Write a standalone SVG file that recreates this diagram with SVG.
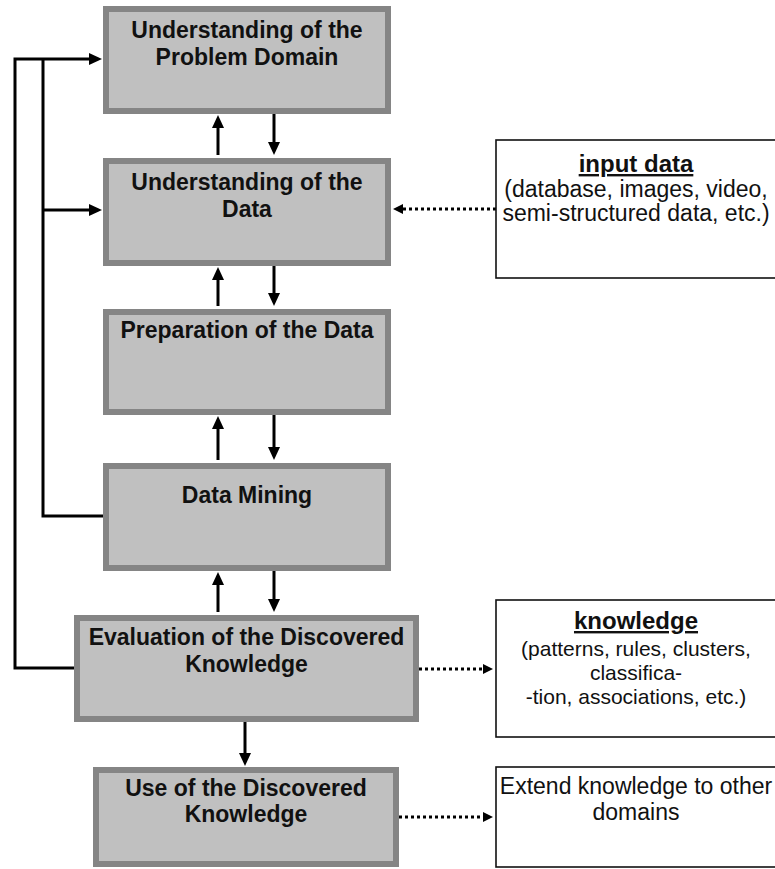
<svg xmlns="http://www.w3.org/2000/svg" width="775" height="869" viewBox="0 0 775 869">
<style>
.box{fill:#c0c0c0;stroke:#858585;stroke-width:6}
.note{fill:#fff;stroke:#111;stroke-width:1.6}
.t{font-family:"Liberation Sans",Arial,sans-serif;font-weight:bold;font-size:23px;fill:#111;text-anchor:middle}
.h{font-family:"Liberation Sans",Arial,sans-serif;font-weight:bold;font-size:24px;fill:#111;text-anchor:middle;text-decoration:underline}
.b{font-family:"Liberation Sans",Arial,sans-serif;font-size:23px;fill:#111;text-anchor:middle}
.s{font-family:"Liberation Sans",Arial,sans-serif;font-size:21px;fill:#111;text-anchor:middle}
.ln{fill:none;stroke:#000;stroke-width:3;stroke-linejoin:miter}
.dot{fill:none;stroke:#000;stroke-width:3;stroke-dasharray:3 3}
</style>
<defs>
<marker id="ah" viewBox="0 0 13 12" refX="3" refY="6" markerWidth="13" markerHeight="12" markerUnits="userSpaceOnUse" orient="auto">
<path d="M0,0 L13,6 L0,12 z" fill="#000"/>
</marker>
<marker id="dh" viewBox="0 0 10 10" refX="0" refY="5" markerWidth="10" markerHeight="10" markerUnits="userSpaceOnUse" orient="auto">
<path d="M0,0 L10,5 L0,10 z" fill="#000"/>
</marker>
</defs>
<rect width="775" height="869" fill="#fff"/>

<g id="connectors">
<path class="ln" d="M218,155 V125" marker-end="url(#ah)"/>
<path class="ln" d="M274,114 V145" marker-end="url(#ah)"/>
<path class="ln" d="M218,306 V277" marker-end="url(#ah)"/>
<path class="ln" d="M274,266 V296" marker-end="url(#ah)"/>
<path class="ln" d="M218,460 V426" marker-end="url(#ah)"/>
<path class="ln" d="M274,415 V450" marker-end="url(#ah)"/>
<path class="ln" d="M218,612 V582" marker-end="url(#ah)"/>
<path class="ln" d="M274,571 V602" marker-end="url(#ah)"/>
<path class="ln" d="M245,722 V756" marker-end="url(#ah)"/>
<path class="ln" d="M74,668 H15 V59 H92" marker-end="url(#ah)"/>
<path class="ln" d="M103,516 H43 V59"/>
<path class="ln" d="M43,210 H92" marker-end="url(#ah)"/>
<path class="dot" d="M496,209 H403" marker-end="url(#dh)"/>
<path class="dot" d="M419,669 H483" marker-end="url(#dh)"/>
<path class="dot" d="M399,817 H483" marker-end="url(#dh)"/>
</g>

<g id="problem-domain">
<rect class="box" x="106" y="9" width="282" height="102"/>
<text class="t" x="247" y="38">Understanding of the</text>
<text class="t" x="247" y="65">Problem Domain</text>
</g>
<g id="understanding-data">
<rect class="box" x="106" y="161" width="282" height="102"/>
<text class="t" x="247" y="190">Understanding of the</text>
<text class="t" x="247" y="217">Data</text>
</g>
<g id="preparation">
<rect class="box" x="106" y="312" width="282" height="100"/>
<text class="t" x="247" y="338">Preparation of the Data</text>
</g>
<g id="data-mining">
<rect class="box" x="106" y="466" width="282" height="102"/>
<text class="t" x="247" y="503">Data Mining</text>
</g>
<g id="evaluation">
<rect class="box" x="77" y="618" width="339" height="101"/>
<text class="t" x="246.5" y="645">Evaluation of the Discovered</text>
<text class="t" x="246.5" y="672">Knowledge</text>
</g>
<g id="use">
<rect class="box" x="96" y="770" width="300" height="94"/>
<text class="t" x="246" y="796">Use of the Discovered</text>
<text class="t" x="246" y="822">Knowledge</text>
</g>
<g id="input-data">
<rect class="note" x="496" y="140" width="280" height="138"/>
<text class="h" x="636" y="172">input data</text>
<text class="b" x="636" y="197">(database, images, video,</text>
<text class="b" x="636" y="221">semi-structured data, etc.)</text>
</g>
<g id="knowledge">
<rect class="note" x="496" y="600" width="280" height="137"/>
<text class="h" x="636" y="629">knowledge</text>
<text class="s" x="636" y="656">(patterns, rules, clusters,</text>
<text class="s" x="636" y="680">classifica-</text>
<text class="s" x="636" y="704">-tion, associations, etc.)</text>
</g>
<g id="extend">
<rect class="note" x="496" y="767" width="280" height="100"/>
<text class="b" x="636" y="794">Extend knowledge to other</text>
<text class="b" x="636" y="820">domains</text>
</g>
</svg>
